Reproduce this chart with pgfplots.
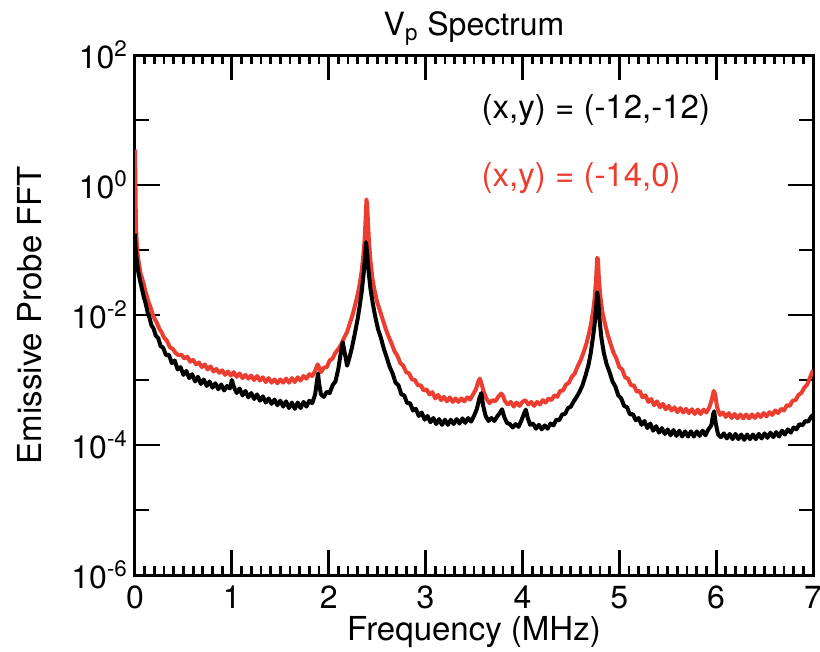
\documentclass[border=0pt]{standalone}
\usepackage{fontspec}
\setmainfont{TeX Gyre Heros}
\usepackage{pgfplots}
\pgfplotsset{compat=1.18}
\definecolor{myred}{RGB}{236,62,48}
\begin{document}
\begin{tikzpicture}
\begin{axis}[
  width=339pt, height=260pt, scale only axis,
  xmin=0, xmax=7, ymin=1e-6, ymax=1e2,
  ymode=log,
  xtick={0,1,2,3,4,5,6,7},
  minor x tick num=9,
  ytick={1e-6,1e-4,1e-2,1,1e2},
  yticklabels={10\textsuperscript{-6},10\textsuperscript{-4},10\textsuperscript{-2},10\textsuperscript{0},10\textsuperscript{2}},
  minor ytick={},
  extra y ticks={1e-5,1e-3,1e-1,10},
  extra y tick labels={},
  extra y tick style={major tick length=7pt},
  major tick length=12.5pt,
  minor tick length=4.5pt,
  tick align=inside,
  tick style={line width=1.4pt, black},
  axis line style={line width=1.5pt},
  /pgf/number format/assume math mode=true,
  ticklabel style={font=\fontsize{16}{18}\selectfont},
  xticklabel style={yshift=-2pt},
  title={V\textsubscript{p} Spectrum},
  title style={at={(axis description cs:0.5,1.015)}, anchor=base, yshift=0pt, font=\fontsize{16}{18}\selectfont},
  xlabel={Frequency (MHz)},
  xlabel style={at={(axis description cs:0.5,-0.1096)}, anchor=center, font=\fontsize{16.5}{18}\selectfont},
  ylabel={Emissive Probe FFT},
  ylabel style={at={(axis description cs:-0.155,0.5)}, anchor=center, font=\fontsize{16.5}{18}\selectfont},
]
\addplot[myred, line width=2pt, line join=round] coordinates {
(0.000,3.5) (0.004,1.26) (0.008,0.40) (0.012,0.20) (0.020,0.112) (0.030,0.079) (0.045,0.056) (0.060,0.042) (0.075,0.036) (0.090,0.030)
(0.105,0.024) (0.120,0.020) (0.140,0.0158) (0.160,0.0132) (0.180,0.0105) (0.200,8.9e-3) (0.225,7.6e-3) (0.250,6.2e-3) (0.275,5.4e-3) (0.300,4.5e-3)
(0.330,4.0e-3) (0.360,3.2e-3) (0.390,3.0e-3) (0.420,2.6e-3) (0.450,2.4e-3) (0.480,2.45e-3) (0.510,2.14e-3) (0.540,2.29e-3) (0.570,1.91e-3) (0.600,2.04e-3)
(0.630,1.74e-3) (0.660,1.86e-3) (0.690,1.58e-3) (0.720,1.74e-3) (0.750,1.45e-3) (0.780,1.62e-3) (0.810,1.35e-3) (0.840,1.48e-3) (0.870,1.29e-3) (0.900,1.41e-3)
(0.930,1.20e-3) (0.960,1.35e-3) (0.990,1.17e-3) (1.020,1.32e-3) (1.050,1.12e-3) (1.080,1.26e-3) (1.110,1.07e-3) (1.140,1.20e-3) (1.170,1.05e-3) (1.200,1.17e-3)
(1.230,1.00e-3) (1.260,1.15e-3) (1.290,9.8e-4) (1.320,1.10e-3) (1.350,9.3e-4) (1.380,1.07e-3) (1.410,9.1e-4) (1.440,1.02e-3) (1.470,8.9e-4) (1.500,1.02e-3)
(1.530,9.1e-4) (1.560,1.05e-3) (1.590,9.1e-4) (1.620,1.07e-3) (1.650,9.3e-4) (1.680,1.10e-3) (1.710,9.8e-4) (1.740,1.15e-3) (1.770,1.05e-3) (1.800,1.23e-3)
(1.830,1.15e-3) (1.860,1.38e-3) (1.885,1.74e-3) (1.900,1.58e-3) (1.920,1.32e-3) (1.950,1.55e-3) (1.980,1.58e-3) (2.010,2.0e-3) (2.040,2.14e-3) (2.070,2.63e-3)
(2.100,3.0e-3) (2.130,3.55e-3) (2.160,4.5e-3) (2.190,5.5e-3) (2.220,7.6e-3) (2.250,0.0105) (2.280,0.0158) (2.300,0.021) (2.320,0.030) (2.340,0.047)
(2.355,0.076) (2.370,0.141) (2.380,0.28) (2.390,0.60) (2.397,0.50) (2.405,0.28) (2.415,0.141) (2.430,0.071) (2.450,0.038) (2.470,0.025)
(2.500,0.0158) (2.530,0.0115) (2.560,8.3e-3) (2.590,6.0e-3) (2.620,4.6e-3) (2.650,3.6e-3) (2.680,2.75e-3) (2.710,2.34e-3) (2.740,1.82e-3) (2.770,1.66e-3)
(2.800,1.32e-3) (2.830,1.26e-3) (2.860,1.02e-3) (2.890,1.0e-3) (2.920,8.3e-4) (2.950,8.3e-4) (2.980,6.9e-4) (3.010,7.2e-4) (3.040,6.0e-4) (3.070,6.5e-4)
(3.100,5.2e-4) (3.130,5.9e-4) (3.160,4.9e-4) (3.190,5.5e-4) (3.220,4.7e-4) (3.250,5.4e-4) (3.280,4.6e-4) (3.310,5.2e-4) (3.340,4.6e-4) (3.370,5.2e-4)
(3.400,4.7e-4) (3.430,5.4e-4) (3.460,5.0e-4) (3.490,6.0e-4) (3.520,7.2e-4) (3.545,9.5e-4) (3.560,1.05e-3) (3.575,9.1e-4) (3.600,6.6e-4) (3.630,5.1e-4)
(3.660,4.4e-4) (3.690,4.9e-4) (3.720,4.7e-4) (3.750,5.5e-4) (3.780,6.2e-4) (3.795,5.9e-4) (3.820,4.7e-4) (3.850,4.2e-4) (3.880,4.6e-4) (3.910,3.9e-4)
(3.940,4.5e-4) (3.970,4.0e-4) (4.000,4.6e-4) (4.030,4.9e-4) (4.060,4.2e-4) (4.090,4.6e-4) (4.120,4.0e-4) (4.150,4.6e-4) (4.180,4.2e-4) (4.210,4.9e-4)
(4.240,4.5e-4) (4.270,5.2e-4) (4.300,4.9e-4) (4.330,5.8e-4) (4.360,5.5e-4) (4.390,6.8e-4) (4.420,6.9e-4) (4.450,8.5e-4) (4.480,9.1e-4) (4.510,1.12e-3)
(4.540,1.26e-3) (4.570,1.62e-3) (4.600,2.0e-3) (4.630,2.63e-3) (4.660,3.6e-3) (4.690,5.4e-3) (4.710,7.6e-3) (4.730,0.0115) (4.745,0.0178) (4.760,0.035)
(4.772,0.076) (4.780,0.071) (4.790,0.035) (4.805,0.019) (4.825,0.0112) (4.850,7.6e-3) (4.880,5.0e-3) (4.910,3.6e-3) (4.940,2.63e-3) (4.970,2.14e-3)
(5.000,1.58e-3) (5.030,1.45e-3) (5.060,1.10e-3) (5.090,1.05e-3) (5.120,8.3e-4) (5.150,8.3e-4) (5.180,6.6e-4) (5.210,6.8e-4) (5.240,5.4e-4) (5.270,5.8e-4)
(5.300,4.6e-4) (5.330,5.1e-4) (5.360,4.1e-4) (5.390,4.7e-4) (5.420,3.8e-4) (5.450,4.3e-4) (5.480,3.55e-4) (5.510,4.0e-4) (5.540,3.4e-4) (5.570,3.8e-4)
(5.600,3.2e-4) (5.630,3.7e-4) (5.660,3.16e-4) (5.690,3.6e-4) (5.720,3.1e-4) (5.750,3.55e-4) (5.780,3.0e-4) (5.810,3.5e-4) (5.840,3.0e-4) (5.870,3.5e-4)
(5.900,3.16e-4) (5.930,3.8e-4) (5.955,5.0e-4) (5.975,6.8e-4) (5.990,6.0e-4) (6.010,3.8e-4) (6.040,2.9e-4) (6.070,3.16e-4) (6.100,2.7e-4) (6.130,3.1e-4)
(6.160,2.6e-4) (6.190,3.0e-4) (6.220,2.57e-4) (6.250,2.95e-4) (6.280,2.57e-4) (6.310,2.95e-4) (6.340,2.57e-4) (6.370,2.95e-4) (6.400,2.6e-4) (6.430,3.0e-4)
(6.460,2.7e-4) (6.490,3.1e-4) (6.520,2.75e-4) (6.550,3.2e-4) (6.580,2.9e-4) (6.610,3.4e-4) (6.640,3.1e-4) (6.670,3.6e-4) (6.700,3.4e-4) (6.730,4.1e-4)
(6.760,4.0e-4) (6.790,4.8e-4) (6.820,4.9e-4) (6.850,5.9e-4) (6.880,6.3e-4) (6.910,7.6e-4) (6.940,8.5e-4) (6.970,1.10e-3) (7.000,1.41e-3)
};
\addplot[black, line width=2pt, line join=round] coordinates {
(0.000,0.178) (0.005,0.112) (0.012,0.083) (0.020,0.066) (0.035,0.045) (0.050,0.035) (0.070,0.026) (0.090,0.019) (0.110,0.0151) (0.130,0.011)
(0.150,9.1e-3) (0.170,6.9e-3) (0.190,6.3e-3) (0.215,4.8e-3) (0.240,4.4e-3) (0.265,3.3e-3) (0.290,3.16e-3) (0.320,2.4e-3) (0.350,2.45e-3) (0.380,1.82e-3)
(0.410,2.0e-3) (0.440,1.45e-3) (0.470,1.58e-3) (0.500,1.20e-3) (0.530,1.38e-3) (0.560,1.07e-3) (0.590,1.23e-3) (0.620,9.5e-4) (0.650,1.12e-3) (0.680,8.7e-4)
(0.710,1.02e-3) (0.740,8.1e-4) (0.770,9.5e-4) (0.800,7.6e-4) (0.830,8.9e-4) (0.860,7.2e-4) (0.890,8.5e-4) (0.920,6.9e-4) (0.950,8.1e-4) (0.980,7.4e-4)
(1.000,1.0e-3) (1.020,7.9e-4) (1.050,6.3e-4) (1.080,7.4e-4) (1.110,5.8e-4) (1.140,6.8e-4) (1.170,5.4e-4) (1.200,6.3e-4) (1.230,5.1e-4) (1.260,6.0e-4)
(1.290,4.8e-4) (1.320,5.6e-4) (1.350,4.5e-4) (1.380,5.2e-4) (1.410,4.3e-4) (1.440,5.0e-4) (1.470,4.1e-4) (1.500,4.8e-4) (1.530,3.9e-4) (1.560,4.7e-4)
(1.590,3.7e-4) (1.620,4.5e-4) (1.650,3.6e-4) (1.680,4.5e-4) (1.710,3.7e-4) (1.740,4.6e-4) (1.770,3.9e-4) (1.800,4.8e-4) (1.830,4.4e-4) (1.860,6.0e-4)
(1.880,1.0e-3) (1.890,1.26e-3) (1.900,8.9e-4) (1.920,6.0e-4) (1.950,5.5e-4) (1.980,6.6e-4) (2.010,6.3e-4) (2.040,8.3e-4) (2.070,9.5e-4) (2.100,1.51e-3)
(2.125,2.63e-3) (2.145,3.8e-3) (2.165,2.63e-3) (2.190,1.66e-3) (2.210,2.1e-3) (2.240,3.16e-3) (2.270,5.2e-3) (2.300,8.9e-3) (2.320,0.0138) (2.340,0.0224)
(2.360,0.042) (2.375,0.079) (2.385,0.132) (2.395,0.095) (2.410,0.050) (2.430,0.026) (2.455,0.0151) (2.480,9.5e-3) (2.510,6.0e-3) (2.540,4.4e-3)
(2.570,3.0e-3) (2.600,2.19e-3) (2.630,1.58e-3) (2.660,1.26e-3) (2.690,9.1e-4) (2.720,8.3e-4) (2.750,6.0e-4) (2.780,5.8e-4) (2.810,4.4e-4) (2.840,4.4e-4)
(2.870,3.4e-4) (2.900,3.6e-4) (2.930,2.8e-4) (2.960,3.16e-4) (2.990,2.45e-4) (3.020,2.8e-4) (3.050,2.24e-4) (3.080,2.6e-4) (3.110,2.1e-4) (3.140,2.5e-4)
(3.170,2.04e-4) (3.200,2.45e-4) (3.230,2.04e-4) (3.260,2.45e-4) (3.290,2.1e-4) (3.320,2.5e-4) (3.350,2.14e-4) (3.380,2.57e-4) (3.410,2.19e-4) (3.440,2.6e-4)
(3.470,2.29e-4) (3.500,2.8e-4) (3.530,3.6e-4) (3.555,5.2e-4) (3.575,6.3e-4) (3.595,4.0e-4) (3.620,2.8e-4) (3.650,2.34e-4) (3.680,2.6e-4) (3.710,2.34e-4)
(3.740,2.75e-4) (3.770,3.16e-4) (3.790,3.55e-4) (3.810,2.75e-4) (3.840,2.19e-4) (3.870,2.1e-4) (3.900,1.86e-4) (3.930,2.1e-4) (3.960,1.9e-4) (3.990,2.4e-4)
(4.015,3.0e-4) (4.035,3.5e-4) (4.055,2.6e-4) (4.080,2.04e-4) (4.110,2.14e-4) (4.140,1.78e-4) (4.170,2.04e-4) (4.200,1.74e-4) (4.230,2.0e-4) (4.260,1.78e-4)
(4.290,2.14e-4) (4.320,2.0e-4) (4.350,2.45e-4) (4.380,2.4e-4) (4.410,2.95e-4) (4.440,3.0e-4) (4.470,3.7e-4) (4.500,3.9e-4) (4.530,4.7e-4) (4.560,5.5e-4)
(4.590,6.6e-4) (4.620,8.3e-4) (4.650,1.15e-3) (4.680,1.66e-3) (4.705,2.57e-3) (4.725,4.2e-3) (4.745,7.1e-3) (4.760,0.0126) (4.772,0.0224) (4.782,0.0178)
(4.795,8.9e-3) (4.815,4.5e-3) (4.840,2.63e-3) (4.870,1.74e-3) (4.900,1.32e-3) (4.930,9.5e-4) (4.960,7.9e-4) (4.990,5.8e-4) (5.020,5.2e-4) (5.050,4.0e-4)
(5.080,3.8e-4) (5.110,2.95e-4) (5.140,3.0e-4) (5.170,2.4e-4) (5.200,2.6e-4) (5.230,2.04e-4) (5.260,2.34e-4) (5.290,1.82e-4) (5.320,2.14e-4) (5.350,1.66e-4)
(5.380,1.95e-4) (5.410,1.55e-4) (5.440,1.82e-4) (5.470,1.48e-4) (5.500,1.74e-4) (5.530,1.41e-4) (5.560,1.70e-4) (5.590,1.38e-4) (5.620,1.66e-4) (5.650,1.35e-4)
(5.680,1.62e-4) (5.710,1.35e-4) (5.740,1.62e-4) (5.770,1.35e-4) (5.800,1.62e-4) (5.830,1.38e-4) (5.860,1.66e-4) (5.890,1.41e-4) (5.920,1.74e-4) (5.950,2.0e-4)
(5.970,3.0e-4) (5.980,3.3e-4) (5.995,2.19e-4) (6.020,1.45e-4) (6.050,1.32e-4) (6.080,1.51e-4) (6.110,1.26e-4) (6.140,1.48e-4) (6.170,1.23e-4) (6.200,1.48e-4)
(6.230,1.23e-4) (6.260,1.45e-4) (6.290,1.20e-4) (6.320,1.45e-4) (6.350,1.23e-4) (6.380,1.45e-4) (6.410,1.23e-4) (6.440,1.48e-4) (6.470,1.26e-4) (6.500,1.51e-4)
(6.530,1.29e-4) (6.560,1.55e-4) (6.590,1.32e-4) (6.620,1.58e-4) (6.650,1.35e-4) (6.680,1.66e-4) (6.710,1.45e-4) (6.740,1.74e-4) (6.770,1.55e-4) (6.800,1.86e-4)
(6.830,1.74e-4) (6.860,2.1e-4) (6.890,2.0e-4) (6.920,2.34e-4) (6.950,2.29e-4) (6.980,2.7e-4) (7.000,2.9e-4)
};
\node[anchor=west, text=black, font=\fontsize{16.5}{18}\selectfont] at (rel axis cs:0.501,0.894) {(x,y) = (-12,-12)};
\node[anchor=west, text=myred, font=\fontsize{16.5}{18}\selectfont] at (rel axis cs:0.501,0.763) {(x,y) = (-14,0)};
\coordinate (SW) at (rel axis cs:0,0);
\coordinate (NE) at (rel axis cs:1,1);
\end{axis}
\pgfresetboundingbox
\useasboundingbox ([xshift=-67.5pt,yshift=-38.5pt]SW) rectangle ([xshift=3.5pt,yshift=27.5pt]NE);
\end{tikzpicture}
\end{document}
